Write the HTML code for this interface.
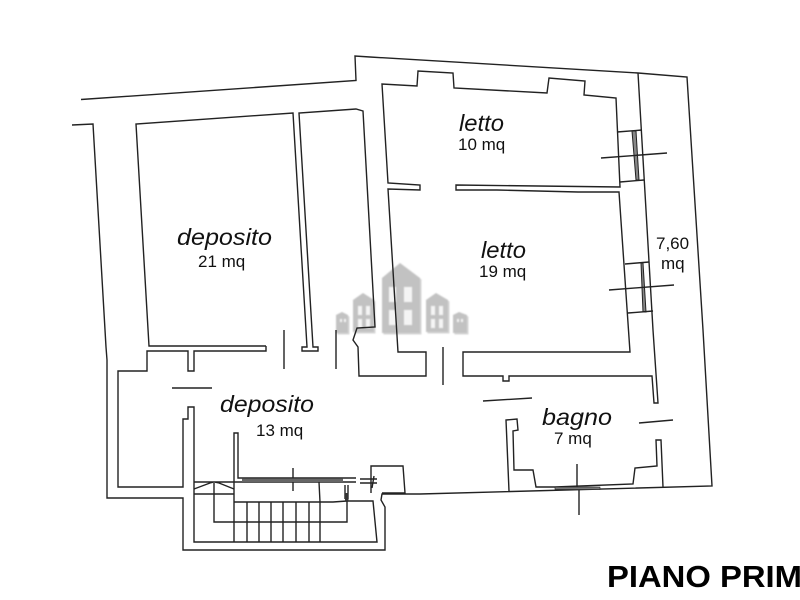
<!DOCTYPE html>
<html><head><meta charset="utf-8"><style>
html,body{margin:0;padding:0;background:#fff;overflow:hidden}
svg{display:block;filter:blur(0.3px)}
text{font-family:"Liberation Sans",sans-serif;fill:#111}
.r{font-size:23.5px;font-style:italic}
.m{font-size:17px}
</style></head><body>
<svg width="800" height="600" viewBox="0 0 800 600" xmlns="http://www.w3.org/2000/svg">
<defs><filter id="b" x="-10%" y="-10%" width="120%" height="120%"><feGaussianBlur stdDeviation="0.7"/></filter></defs>
<g filter="url(#b)">
<g fill="#d6d6d6" transform="translate(1.5,1.5)">
<path d="M382 278L400 263L420 278V333H382Z"/><path d="M353 300L363 293L374 300V332H353Z"/><path d="M426 300L436 293L448 300V332H426Z"/><path d="M336 315L342 312L348 315V333H336Z"/><path d="M453 315L459 312L467 315V333H453Z"/>
</g>
<g fill="#c2c2c2">
<path d="M382 278L400 263L420 278V333H382Z"/><path d="M353 300L363 293L374 300V332H353Z"/><path d="M426 300L436 293L448 300V332H426Z"/><path d="M336 315L342 312L348 315V333H336Z"/><path d="M453 315L459 312L467 315V333H453Z"/>
</g>
<g fill="#f4f4f4">
<rect x="389" y="287" width="7" height="15"/><rect x="404" y="287" width="8" height="15"/><rect x="389" y="310" width="7" height="15"/><rect x="404" y="310" width="8" height="15"/>
<rect x="358" y="306" width="4" height="9"/><rect x="366" y="306" width="4" height="9"/><rect x="358" y="319" width="4" height="9"/><rect x="366" y="319" width="4" height="9"/>
<rect x="431" y="306" width="4" height="9"/><rect x="439" y="306" width="4" height="9"/><rect x="431" y="319" width="4" height="9"/><rect x="439" y="319" width="4" height="9"/>
<rect x="340" y="319" width="2" height="3"/><rect x="344" y="319" width="2" height="3"/><rect x="457" y="319" width="2" height="3"/><rect x="461" y="319" width="2" height="3"/>
</g>
</g>
<path d="M632 131H636L639 180H636Z M641 263H643L646 312H643Z" fill="#888" stroke="#222" stroke-width="1"/>
<g fill="none" stroke="#222" stroke-width="1.4">
<!-- outer -->
<path d="M81 99.5L356 80.5L355 56L370 57L638 73L687 77L703 330L712 486L420 494L382 494L381 500L385 507L385 550L183 550L183 498L107 498L107 360L106 347L93 124L72 125"/>
<!-- deposito 21 -->
<path d="M266 346H149L136 124L293 113L307 347H302V351H318V347H313L299 113L356 109L363 111L375 327L357 328L353 340L358 347L359 376H426V352H398L388 189L420 190V185L388 183L382 84L417 86L418 71L453 73L454 88L547 93L549 78L585 81L584 95L616 98L620 187L456 185V190L497 190L578 192L619 192L630 352H463V376H503V381H509V376H652L654 403H658L653 330L638 73"/>
<path d="M266 346V351H194V371H188V351H147V371H118V487H183V419H188V407H194V542H377L373 501L347 501L333 502H234"/>
<!-- door lines -->
<path d="M172 388H212M284 330V369M336 330V369M443 347V385M483 401L532 398M639 423L673 420"/>
<!-- windows -->
<path d="M617 132L642 130M620 182L644 180M601 158L667 153M625 264L649 262M628 313L653 311M609 290L674 285"/>
<!-- bagno -->
<path d="M509 491L506 420L517 419L518 430L513 431L514 470H533L536 487H555L633 484L635 468L657 466L656 440H661L663 487"/>
<path d="M577 464V487M579 489V515"/>
<!-- stairs -->
<path d="M234 482V433H238V478H356M234 482H356M360 479H377M360 483H377M374 476L372 488M293 468V491"/>
<path d="M371 493L371 466H403L405 493H382"/>
<path d="M194 482H234M194 494H234M194 489L210 483L214 482L219 483L234 489"/>
<path d="M214 483V522H347V493M234 482V542M247 502V542M259 502V542M271 502V542M283 502V542M296 502V542M309 502V542M320 502V542M319 482L320 502M345 485V499M348 485V499"/>
</g>
<rect x="242" y="478.5" width="101" height="3.5" fill="#666"/>
<rect x="555" y="487" width="45" height="2.5" fill="#777" stroke="#222" stroke-width=".6"/>
<rect x="345" y="493" width="3.5" height="8" fill="#333"/>
<text class="r" x="177" y="245" textLength="95" lengthAdjust="spacingAndGlyphs">deposito</text>
<text class="m" x="198" y="267">21 mq</text>
<text class="r" x="220" y="412" textLength="94" lengthAdjust="spacingAndGlyphs">deposito</text>
<text class="m" x="256" y="436">13 mq</text>
<text class="r" x="459" y="131" textLength="45" lengthAdjust="spacingAndGlyphs">letto</text>
<text class="m" x="458" y="150">10 mq</text>
<text class="r" x="481" y="258" textLength="45" lengthAdjust="spacingAndGlyphs">letto</text>
<text class="m" x="479" y="277">19 mq</text>
<text class="r" x="542" y="425" textLength="70" lengthAdjust="spacingAndGlyphs">bagno</text>
<text class="m" x="554" y="444">7 mq</text>
<text class="m" x="656" y="249">7,60</text>
<text class="m" x="661" y="269">mq</text>
<text x="607" y="587" font-size="31" font-weight="bold" textLength="195" lengthAdjust="spacingAndGlyphs" style="fill:#000">PIANO PRIM</text>
</svg>
</body></html>
